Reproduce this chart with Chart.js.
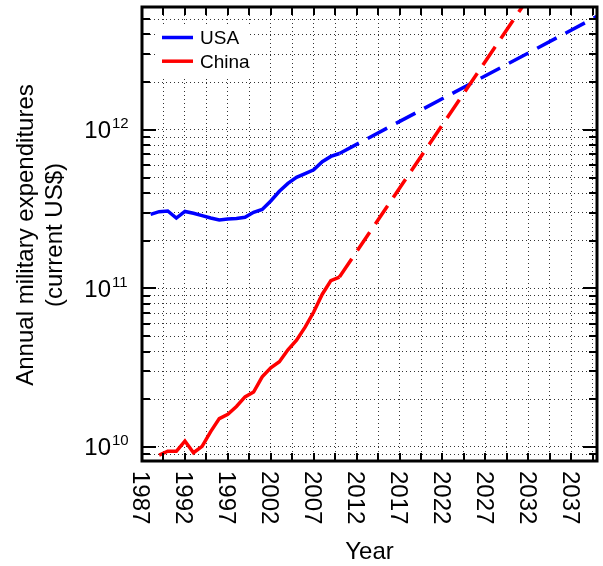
<!DOCTYPE html>
<html>
<head>
<meta charset="utf-8">
<title>Annual military expenditures: USA and China</title>
<script src="https://cdn.jsdelivr.net/npm/chart.js@4.4.1/dist/chart.umd.min.js"></script>
<style>
  body { margin: 0; background: #fff; }
  canvas { display: block; }
</style>
</head>
<body>
<canvas id="milChart" width="603" height="566"></canvas>
<script>
// yearly totals in current US$, the last entry of each list is the 2040 trend end point
var usaYears = [1988, 1989, 1990, 1991, 1992, 1993, 1994, 1995, 1996, 1997, 1998, 1999,
                2000, 2001, 2002, 2003, 2004, 2005, 2006, 2007, 2008, 2009, 2010, 2040];
var usaSpend = [2.93e11, 3.05e11, 3.08e11, 2.78e11, 3.06e11, 2.98e11, 2.88e11, 2.78e11,
                2.70e11, 2.74e11, 2.76e11, 2.81e11, 3.02e11, 3.15e11, 3.56e11, 4.10e11,
                4.60e11, 5.02e11, 5.30e11, 5.60e11, 6.30e11, 6.80e11, 7.10e11, 5.2e12];

var chinaYears = [1989, 1990, 1991, 1992, 1993, 1994, 1995, 1996, 1997, 1998, 1999, 2000,
                  2001, 2002, 2003, 2004, 2005, 2006, 2007, 2008, 2009, 2010, 2040];
var chinaSpend = [8.9e9, 9.4e9, 9.4e9, 1.09e10, 9.2e9, 1.01e10, 1.25e10, 1.51e10, 1.61e10,
                  1.80e10, 2.07e10, 2.22e10, 2.77e10, 3.16e10, 3.45e10, 4.1e10, 4.72e10,
                  5.7e10, 7.1e10, 9.2e10, 1.12e11, 1.18e11, 2.97e13];

// labelled years along the bottom, labelled powers of ten on the left
var yearLabels = [1987, 1992, 1997, 2002, 2007, 2012, 2017, 2022, 2027, 2032, 2037];
var decadeExps = [10, 11, 12];

var xMin = 1987, xMax = 2040;
var yMin = 8.16e9, yMax = 5.96e12;

var FONT = '"Liberation Sans", Arial, Helvetica, sans-serif';

// dotted grid every 2.5 years and at 1..9 x 10^n
var xGrid = [];
for (var v = xMin; v < xMax; v += 2.5) xGrid.push(v);
var yGrid = [];
for (var e = 9; e <= 12; e++) {
  for (var m = 1; m <= 9; m++) {
    var g = m * Math.pow(10, e);
    if (g > yMin && g < yMax) yGrid.push(g);
  }
}

function toPoints(xs, ys) {
  return xs.map(function (x, i) { return { x: x, y: ys[i] }; });
}

// last segment is the projection -> dashed
function dashLast(n) {
  return function (ctx) {
    return ctx.p1DataIndex === n - 1 ? [22, 10] : undefined;
  };
}

function isDecade(val) {
  var l = Math.log10(val);
  return Math.abs(l - Math.round(l)) < 1e-9;
}

// frame, inward ticks, legend and all the axis text
var frameAndLabels = {
  id: 'frameAndLabels',
  afterDraw: function (chart) {
    var c = chart.ctx, a = chart.chartArea;
    var sx = chart.scales.x, sy = chart.scales.y;
    c.save();

    // legend sits on a white patch inside the plot
    c.fillStyle = '#fff';
    c.fillRect(a.left + 13, a.top + 17, 95, 52);
    chart.data.datasets.forEach(function (ds, i) {
      var ly = a.top + 30.5 + i * 23.7;
      c.strokeStyle = ds.borderColor;
      c.lineWidth = 3.5;
      c.setLineDash([]);
      c.beginPath();
      c.moveTo(a.left + 20, ly);
      c.lineTo(a.left + 51, ly);
      c.stroke();
      c.fillStyle = '#000';
      c.font = '19px ' + FONT;
      c.textAlign = 'left';
      c.textBaseline = 'alphabetic';
      c.fillText(ds.label, a.left + 58, ly + 6.5);
    });

    // black box round the plot
    c.strokeStyle = '#000';
    c.lineWidth = 3;
    c.strokeRect(a.left, a.top, a.right - a.left, a.bottom - a.top);

    // tick marks pointing inward on all four sides
    c.lineWidth = 2;
    c.beginPath();
    sx.ticks.forEach(function (t) {
      var px = Math.round(sx.getPixelForValue(t.value));
      if (px <= a.left + 1 || px >= a.right - 1) return;
      c.moveTo(px, a.bottom);
      c.lineTo(px, a.bottom - 8);
      c.moveTo(px, a.top);
      c.lineTo(px, a.top + 8);
    });
    sy.ticks.forEach(function (t) {
      var py = Math.round(sy.getPixelForValue(t.value));
      if (py <= a.top + 1 || py >= a.bottom - 1) return;
      var len = isDecade(t.value) ? 14 : 8;
      c.moveTo(a.left, py);
      c.lineTo(a.left + len, py);
      c.moveTo(a.right, py);
      c.lineTo(a.right - len, py);
    });
    c.stroke();

    c.fillStyle = '#000';
    c.textBaseline = 'alphabetic';

    // year labels, turned to read downward
    c.font = '24px ' + FONT;
    c.textAlign = 'left';
    yearLabels.forEach(function (yr) {
      var px = sx.getPixelForValue(yr);
      c.save();
      c.translate(px, a.bottom + 10);
      c.rotate(Math.PI / 2);
      c.fillText(String(yr), 0, 8.6);
      c.restore();
    });

    // 10^n labels with a raised exponent
    decadeExps.forEach(function (ex) {
      var py = sy.getPixelForValue(Math.pow(10, ex));
      c.font = '24px ' + FONT;
      c.textAlign = 'right';
      c.fillText('10', a.left - 31, py + 8.5);
      c.font = '15px ' + FONT;
      c.textAlign = 'left';
      c.fillText(String(ex), a.left - 30, py - 1.5);
    });

    // axis titles
    c.font = '24px ' + FONT;
    c.textAlign = 'center';
    c.fillText('Year', (a.left + a.right) / 2, 559);
    c.save();
    c.translate(0, (a.top + a.bottom) / 2 + 1);
    c.rotate(-Math.PI / 2);
    c.fillText('Annual military expenditures', 0, 33);
    c.fillText('(current US$)', 0, 62);
    c.restore();

    c.restore();
  }
};

var gridStyle = { color: 'rgba(0,0,0,0.8)', lineWidth: 1, drawTicks: false };
var gridBorder = { display: false, dash: [1, 3] };

var ctx = document.getElementById('milChart').getContext('2d');
var milChart = new Chart(ctx, {
  type: 'line',
  data: {
    datasets: [
      {
        label: 'USA',
        data: toPoints(usaYears, usaSpend),
        borderColor: '#0000ff',
        order: 1,
        segment: { borderDash: dashLast(usaYears.length) }
      },
      {
        label: 'China',
        data: toPoints(chinaYears, chinaSpend),
        borderColor: '#ff0000',
        order: 0,
        segment: { borderDash: dashLast(chinaYears.length) }
      }
    ]
  },
  options: {
    responsive: false,
    animation: false,
    layout: { padding: { top: 7, right: 6, left: 0, bottom: 0 } },
    elements: {
      point: { radius: 0 },
      line: { borderWidth: 3.5, tension: 0, fill: false }
    },
    plugins: {
      legend: { display: false },
      tooltip: { enabled: false }
    },
    scales: {
      x: {
        type: 'linear',
        min: xMin,
        max: xMax,
        ticks: { display: false, autoSkip: false },
        grid: gridStyle,
        border: gridBorder,
        afterBuildTicks: function (s) { s.ticks = xGrid.map(function (v) { return { value: v }; }); },
        afterFit: function (s) { s.height = 105; }
      },
      y: {
        type: 'logarithmic',
        min: yMin,
        max: yMax,
        ticks: { display: false, autoSkip: false },
        grid: gridStyle,
        border: gridBorder,
        afterBuildTicks: function (s) { s.ticks = yGrid.map(function (v) { return { value: v }; }); },
        afterFit: function (s) { s.width = 142; }
      }
    }
  },
  plugins: [frameAndLabels]
});
</script>
</body>
</html>
